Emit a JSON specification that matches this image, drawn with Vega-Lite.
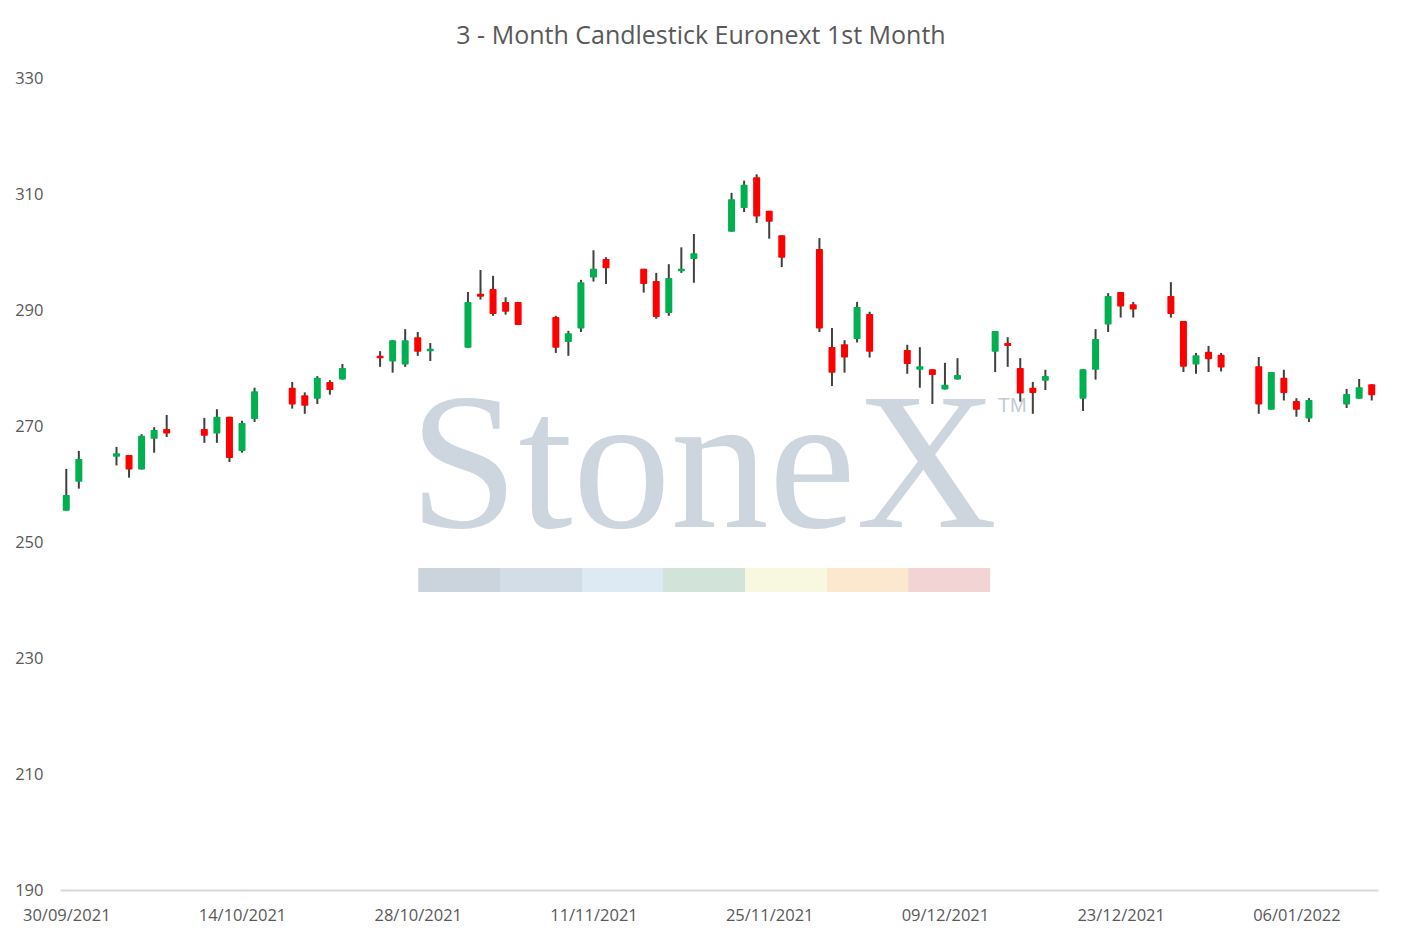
{
  "$schema": "https://vega.github.io/schema/vega-lite/v6.json",
  "width": 1318,
  "height": 812,
  "autosize": {"type": "none"},
  "padding": {"left": 60, "top": 78, "right": 24, "bottom": 51},
  "background": "white",
  "config": {"view": {"stroke": null}},
  "title": {
    "text": "3 - Month Candlestick Euronext 1st Month",
    "font": "Open Sans",
    "fontSize": 25,
    "fontWeight": "normal",
    "color": "#595959",
    "anchor": "middle",
    "dx": -18,
    "offset": 21
  },
  "datasets": {
    "prices": [
      {"date": "2021-09-30", "open": 255.4, "high": 262.6, "low": 255.4, "close": 258.1},
      {"date": "2021-10-01", "open": 260.4, "high": 265.7, "low": 259.2, "close": 264.3},
      {"date": "2021-10-04", "open": 264.7, "high": 266.4, "low": 263.2, "close": 265.3},
      {"date": "2021-10-05", "open": 265.0, "high": 265.0, "low": 261.1, "close": 262.5},
      {"date": "2021-10-06", "open": 262.5, "high": 268.6, "low": 262.5, "close": 268.3},
      {"date": "2021-10-07", "open": 267.8, "high": 269.8, "low": 265.4, "close": 269.3},
      {"date": "2021-10-08", "open": 269.5, "high": 271.9, "low": 268.1, "close": 268.7},
      {"date": "2021-10-11", "open": 269.5, "high": 271.4, "low": 267.1, "close": 268.3},
      {"date": "2021-10-12", "open": 268.7, "high": 272.9, "low": 267.1, "close": 271.6},
      {"date": "2021-10-13", "open": 271.6, "high": 271.6, "low": 263.8, "close": 264.5},
      {"date": "2021-10-14", "open": 265.7, "high": 270.9, "low": 265.4, "close": 270.5},
      {"date": "2021-10-15", "open": 271.2, "high": 276.6, "low": 270.7, "close": 276.0},
      {"date": "2021-10-18", "open": 276.6, "high": 277.6, "low": 273.0, "close": 273.7},
      {"date": "2021-10-19", "open": 275.3, "high": 275.8, "low": 272.1, "close": 273.5},
      {"date": "2021-10-20", "open": 274.7, "high": 278.6, "low": 273.8, "close": 278.3},
      {"date": "2021-10-21", "open": 277.6, "high": 277.9, "low": 275.4, "close": 276.2},
      {"date": "2021-10-22", "open": 278.0, "high": 280.7, "low": 278.0, "close": 280.0},
      {"date": "2021-10-25", "open": 282.1, "high": 282.9, "low": 280.2, "close": 281.7},
      {"date": "2021-10-26", "open": 281.1, "high": 284.8, "low": 279.2, "close": 284.8},
      {"date": "2021-10-27", "open": 280.6, "high": 286.7, "low": 280.2, "close": 284.8},
      {"date": "2021-10-28", "open": 285.3, "high": 286.2, "low": 282.1, "close": 282.8},
      {"date": "2021-10-29", "open": 282.9, "high": 284.3, "low": 281.2, "close": 283.3},
      {"date": "2021-11-01", "open": 283.5, "high": 293.1, "low": 283.5, "close": 291.4},
      {"date": "2021-11-02", "open": 292.8, "high": 296.9, "low": 291.8, "close": 292.3},
      {"date": "2021-11-03", "open": 293.6, "high": 295.9, "low": 289.0, "close": 289.3},
      {"date": "2021-11-04", "open": 291.4, "high": 292.2, "low": 289.2, "close": 289.7},
      {"date": "2021-11-05", "open": 291.4, "high": 291.4, "low": 287.4, "close": 287.4},
      {"date": "2021-11-08", "open": 288.8, "high": 289.0, "low": 282.6, "close": 283.5},
      {"date": "2021-11-09", "open": 284.5, "high": 286.4, "low": 282.1, "close": 286.0},
      {"date": "2021-11-10", "open": 286.8, "high": 295.2, "low": 286.2, "close": 294.8},
      {"date": "2021-11-11", "open": 295.6, "high": 300.3, "low": 294.9, "close": 297.1},
      {"date": "2021-11-12", "open": 298.8, "high": 299.1, "low": 294.5, "close": 297.2},
      {"date": "2021-11-15", "open": 297.1, "high": 297.1, "low": 293.0, "close": 294.5},
      {"date": "2021-11-16", "open": 295.0, "high": 296.4, "low": 288.5, "close": 288.8},
      {"date": "2021-11-17", "open": 289.5, "high": 297.9, "low": 289.0, "close": 295.5},
      {"date": "2021-11-18", "open": 296.7, "high": 300.8, "low": 296.4, "close": 297.1},
      {"date": "2021-11-19", "open": 298.8, "high": 303.1, "low": 294.7, "close": 299.8},
      {"date": "2021-11-22", "open": 303.5, "high": 310.2, "low": 303.5, "close": 309.1},
      {"date": "2021-11-23", "open": 307.6, "high": 312.3, "low": 306.9, "close": 311.6},
      {"date": "2021-11-24", "open": 312.9, "high": 313.4, "low": 305.0, "close": 306.1},
      {"date": "2021-11-25", "open": 307.1, "high": 307.1, "low": 302.3, "close": 305.2},
      {"date": "2021-11-26", "open": 302.9, "high": 302.9, "low": 297.4, "close": 299.0},
      {"date": "2021-11-29", "open": 300.5, "high": 302.4, "low": 286.2, "close": 286.8},
      {"date": "2021-11-30", "open": 283.6, "high": 286.9, "low": 276.9, "close": 279.2},
      {"date": "2021-12-01", "open": 284.1, "high": 284.8, "low": 279.2, "close": 281.8},
      {"date": "2021-12-02", "open": 285.0, "high": 291.4, "low": 284.4, "close": 290.5},
      {"date": "2021-12-03", "open": 289.3, "high": 289.7, "low": 281.8, "close": 282.8},
      {"date": "2021-12-06", "open": 283.1, "high": 284.0, "low": 279.0, "close": 280.7},
      {"date": "2021-12-07", "open": 279.7, "high": 283.6, "low": 276.6, "close": 280.3},
      {"date": "2021-12-08", "open": 279.8, "high": 279.8, "low": 273.8, "close": 278.8},
      {"date": "2021-12-09", "open": 276.3, "high": 280.9, "low": 276.3, "close": 277.1},
      {"date": "2021-12-10", "open": 278.0, "high": 281.7, "low": 278.0, "close": 278.8},
      {"date": "2021-12-13", "open": 282.8, "high": 286.4, "low": 279.3, "close": 286.4},
      {"date": "2021-12-14", "open": 284.3, "high": 285.3, "low": 280.2, "close": 283.8},
      {"date": "2021-12-15", "open": 280.0, "high": 281.7, "low": 274.2, "close": 275.6},
      {"date": "2021-12-16", "open": 276.6, "high": 277.6, "low": 272.1, "close": 275.7},
      {"date": "2021-12-17", "open": 277.8, "high": 279.7, "low": 276.2, "close": 278.6},
      {"date": "2021-12-20", "open": 274.7, "high": 279.8, "low": 272.6, "close": 279.8},
      {"date": "2021-12-21", "open": 279.7, "high": 286.7, "low": 278.0, "close": 285.0},
      {"date": "2021-12-22", "open": 287.5, "high": 292.9, "low": 286.2, "close": 292.4},
      {"date": "2021-12-23", "open": 293.1, "high": 293.1, "low": 288.7, "close": 290.6},
      {"date": "2021-12-24", "open": 291.0, "high": 291.4, "low": 288.7, "close": 290.1},
      {"date": "2021-12-27", "open": 292.4, "high": 294.8, "low": 288.7, "close": 289.3},
      {"date": "2021-12-28", "open": 288.1, "high": 288.1, "low": 279.3, "close": 280.2},
      {"date": "2021-12-29", "open": 280.6, "high": 282.6, "low": 279.0, "close": 282.2},
      {"date": "2021-12-30", "open": 282.8, "high": 283.8, "low": 279.3, "close": 281.5},
      {"date": "2021-12-31", "open": 282.3, "high": 282.6, "low": 279.4, "close": 280.1},
      {"date": "2022-01-03", "open": 280.3, "high": 281.9, "low": 272.1, "close": 273.7},
      {"date": "2022-01-04", "open": 272.8, "high": 279.3, "low": 272.8, "close": 279.3},
      {"date": "2022-01-05", "open": 278.3, "high": 279.7, "low": 274.4, "close": 275.7},
      {"date": "2022-01-06", "open": 274.3, "high": 274.8, "low": 271.6, "close": 272.8},
      {"date": "2022-01-07", "open": 271.3, "high": 274.8, "low": 270.7, "close": 274.5},
      {"date": "2022-01-10", "open": 273.7, "high": 276.4, "low": 273.1, "close": 275.5},
      {"date": "2022-01-11", "open": 274.7, "high": 278.1, "low": 274.7, "close": 276.7},
      {"date": "2022-01-12", "open": 277.2, "high": 277.2, "low": 274.4, "close": 275.3}
    ]
  },
  "layer": [
    {
      "data": {"values": [{}]},
      "mark": {"type": "text", "text": "StoneX", "font": "Liberation Serif", "fontSize": 196, "color": "#CDD5DF", "align": "center", "baseline": "alphabetic"},
      "encoding": {
        "x": {
          "datum": {"year": 2021, "month": 11, "date": 19, "hours": 18, "utc": true}, "type": "temporal",
          "scale": {"type": "utc", "padding": 0, "domain": [{"year": 2021, "month": 9, "date": 29, "hours": 12, "utc": true}, {"year": 2022, "month": 1, "date": 12, "hours": 12, "utc": true}]},
          "axis": {
            "title": null,
            "values": [
              {"year": 2021, "month": 9, "date": 30, "utc": true},
              {"year": 2021, "month": 10, "date": 14, "utc": true},
              {"year": 2021, "month": 10, "date": 28, "utc": true},
              {"year": 2021, "month": 11, "date": 11, "utc": true},
              {"year": 2021, "month": 11, "date": 25, "utc": true},
              {"year": 2021, "month": 12, "date": 9, "utc": true},
              {"year": 2021, "month": 12, "date": 23, "utc": true},
              {"year": 2022, "month": 1, "date": 6, "utc": true}
            ],
            "labelExpr": "utcFormat(datum.value, '%d/%m/%Y')",
            "grid": false,
            "ticks": false,
            "domainColor": "#D9D9D9",
            "domainWidth": 2,
            "labelFont": "Open Sans",
            "labelFontSize": 16.5,
            "labelColor": "#595959",
            "labelPadding": 17,
            "labelFlush": false,
            "labelOverlap": false
          }
        },
        "y": {
          "datum": 252.6, "type": "quantitative",
          "scale": {"domain": [190, 330], "nice": false, "zero": false},
          "axis": {
            "title": null,
            "values": [190, 210, 230, 250, 270, 290, 310, 330],
            "grid": false,
            "ticks": false,
            "domain": false,
            "labelFont": "Open Sans",
            "labelFontSize": 16.5,
            "labelColor": "#595959",
            "labelPadding": 17
          }
        }
      }
    },
    {
      "data": {"values": [{}]},
      "mark": {"type": "text", "text": "TM", "font": "Liberation Sans", "fontSize": 20, "color": "#C3CBD5", "align": "left", "baseline": "alphabetic"},
      "encoding": {
        "x": {"datum": {"year": 2021, "month": 12, "date": 13, "hours": 5, "utc": true}, "type": "temporal"},
        "y": {"datum": 272.4, "type": "quantitative"}
      }
    },
    {
      "data": {"values": [{}]},
      "mark": {
        "type": "rect",
        "color": {
          "gradient": "linear",
          "x1": 0, "y1": 0, "x2": 1, "y2": 0,
          "stops": [
            {"offset": 0, "color": "#CBD3DC"},
            {"offset": 0.1428, "color": "#CBD3DC"},
            {"offset": 0.1429, "color": "#D3DDE7"},
            {"offset": 0.2857, "color": "#D3DDE7"},
            {"offset": 0.2858, "color": "#DEEAF3"},
            {"offset": 0.4285, "color": "#DEEAF3"},
            {"offset": 0.4286, "color": "#D2E3D9"},
            {"offset": 0.5714, "color": "#D2E3D9"},
            {"offset": 0.5715, "color": "#F8F7E0"},
            {"offset": 0.7142, "color": "#F8F7E0"},
            {"offset": 0.7143, "color": "#FBE8CF"},
            {"offset": 0.8571, "color": "#FBE8CF"},
            {"offset": 0.8572, "color": "#F2D4D5"},
            {"offset": 1, "color": "#F2D4D5"}
          ]
        }
      },
      "encoding": {
        "x": {"datum": {"year": 2021, "month": 10, "date": 28, "hours": 1, "utc": true}, "type": "temporal"},
        "x2": {"datum": {"year": 2021, "month": 12, "date": 12, "hours": 14, "minutes": 30, "utc": true}},
        "y": {"datum": 245.5, "type": "quantitative"},
        "y2": {"datum": 241.4}
      }
    },
    {
      "data": {"name": "prices"},
      "mark": {"type": "rule", "color": "#404040", "strokeWidth": 2},
      "encoding": {
        "x": {"field": "date", "type": "temporal"},
        "y": {"field": "low", "type": "quantitative"},
        "y2": {"field": "high"}
      }
    },
    {
      "data": {"name": "prices"},
      "mark": {"type": "bar", "width": 7, "cornerRadius": 1},
      "encoding": {
        "x": {"field": "date", "type": "temporal"},
        "y": {"field": "open", "type": "quantitative"},
        "y2": {"field": "close"},
        "color": {"condition": {"test": "datum.close > datum.open", "value": "#00B050"}, "value": "#FF0000"}
      }
    }
  ]
}
